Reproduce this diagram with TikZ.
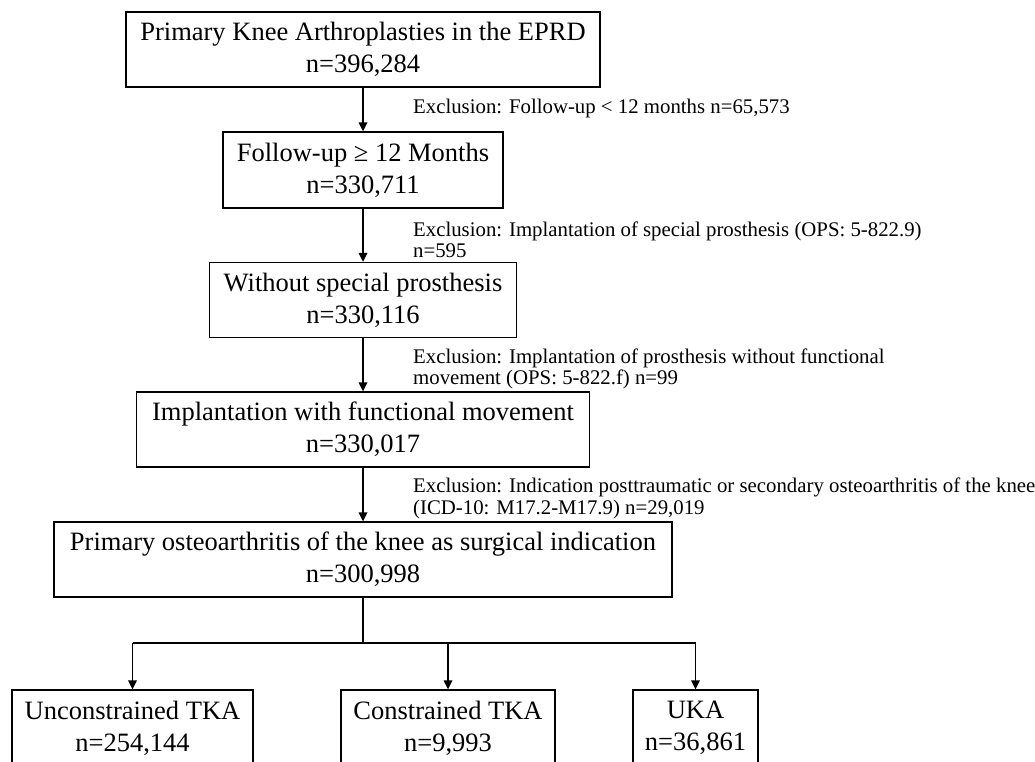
\documentclass[tikz,border=0pt]{standalone}
\usepackage{fontspec}
\setmainfont{Liberation Serif}
\usetikzlibrary{arrows.meta}
\begin{document}
\begin{tikzpicture}[x=1pt,y=-1pt,
  box/.style={draw=black, line width=1.3pt, inner sep=0pt, align=center, font=\fontsize{26.5}{32}\selectfont},
  excl/.style={anchor=west, inner sep=0pt, align=left, font=\fontsize{20.8}{21.5}\selectfont},
  arr/.style={line width=1.7pt, -{Triangle[width=8.5pt,length=9pt]}},
  link/.style={line width=1.9pt}]
\useasboundingbox (0,0) rectangle (1035,762);
\node[box, minimum width=474pt, minimum height=75pt] (b1) at (363,49.5) {Primary Knee Arthroplasties in the EPRD\\n=396,284};
\node[box, minimum width=280pt, minimum height=76pt] (b2) at (363,170) {Follow-up ≥ 12 Months\\n=330,711};
\node[box, minimum width=307pt, minimum height=75pt] (b3) at (363,300) {Without special prosthesis\\n=330,116};
\node[box, minimum width=453pt, minimum height=75pt] (b4) at (363,429.5) {Implantation with functional movement\\n=330,017};
\node[box, minimum width=618pt, minimum height=75pt] (b5) at (363,559.5) {Primary osteoarthritis of the knee as surgical indication\\n=300,998};
\node[box, minimum width=241pt, minimum height=76pt] (bA) at (132.5,728) {Unconstrained TKA\\n=254,144};
\node[box, minimum width=214pt, minimum height=76pt] (bB) at (448,728) {Constrained TKA\\n=9,993};
\node[box, minimum width=125pt, minimum height=76pt] (bC) at (695.5,728) {UKA\\n=36,861};

\node[excl] (e1) at (413,108) {Exclusion: Follow-up < 12 months n=65,573};
\node[excl] (e2) at (413,240) {Exclusion: Implantation of special prosthesis (OPS: 5-822.9)\\n=595};
\node[excl] (e3) at (413,369) {Exclusion: Implantation of prosthesis without functional\\movement (OPS: 5-822.f) n=99};
\node[excl] (e4) at (413,498.5) {Exclusion: Indication posttraumatic or secondary osteoarthritis of the knee\\(ICD-10: M17.2-M17.9) n=29,019};

\draw[arr] (b1.south) -- (b2.north);
\draw[arr] (b2.south) -- (b3.north);
\draw[arr] (b3.south) -- (b4.north);
\draw[arr] (b4.south) -- (b5.north);

\coordinate (j) at (363,643);
\draw[link] (b5.south) -- (j);
\draw[link] (j -| bA.north) -- (j -| bC.north);
\draw[arr] (j -| bA.north) -- (bA.north);
\draw[arr] (j -| bB.north) -- (bB.north);
\draw[arr] (j -| bC.north) -- (bC.north);
\end{tikzpicture}
\end{document}
